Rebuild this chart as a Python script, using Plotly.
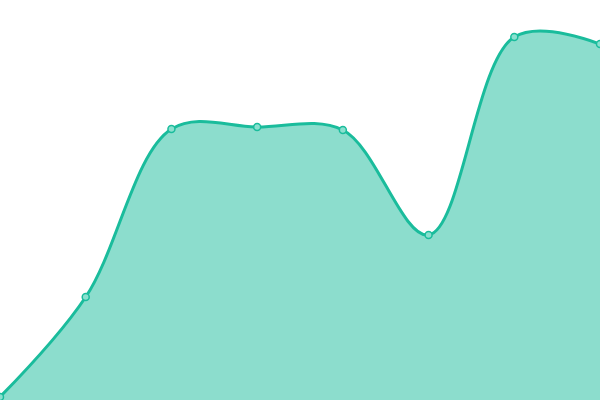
import plotly.graph_objects as go

# Values
x_vals = [0, 1, 2, 3, 4, 5, 6, 7]
y_vals = [3, 103, 271, 273, 270, 165, 363, 356]

fig = go.Figure()

fig.add_trace(go.Scatter(
    x=x_vals,
    y=y_vals,
    mode='lines+markers',
    fill='tozeroy',
    fillcolor='rgba(26,188,156,0.5)',
    line=dict(color='#1abc9c', width=3, shape='spline', smoothing=1),
    marker=dict(size=7, color='#8ae0cf', line=dict(color='#1abc9c', width=1.5)),
    showlegend=False,
    hoverinfo='skip',
))

fig.update_layout(
    width=600,
    height=400,
    margin=dict(l=0, r=0, t=0, b=0),
    plot_bgcolor='white',
    paper_bgcolor='white',
    xaxis=dict(visible=False, range=[0, 7], fixedrange=True),
    yaxis=dict(visible=False, range=[0, 400], fixedrange=True),
)

# Drop the default page margin so the chart sits at the top-left corner
fig.write_html(
    "out.html",
    config={'displayModeBar': False},
    post_script="document.body.style.margin = '0';",
)
